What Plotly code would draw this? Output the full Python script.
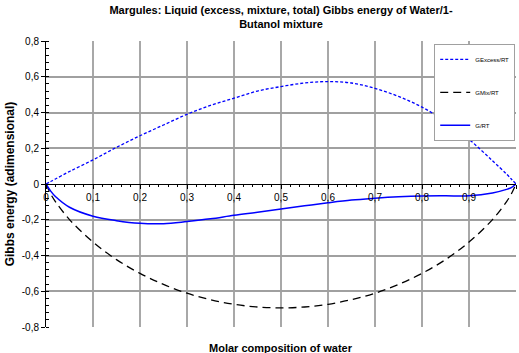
import plotly.graph_objects as go

x_water = [0, 0.01, 0.02, 0.05, 0.1, 0.15, 0.2, 0.25, 0.3, 0.35, 0.4, 0.45, 0.5,
           0.55, 0.6, 0.65, 0.7, 0.75, 0.8, 0.85, 0.9, 0.95, 0.98, 0.99, 1]
g_excess = [0, 0.014, 0.028, 0.07, 0.135, 0.205, 0.27, 0.33, 0.39, 0.44, 0.48, 0.52, 0.545,
            0.565, 0.573, 0.565, 0.535, 0.49, 0.43, 0.35, 0.25, 0.13, 0.055, 0.028, 0]
g_mix = [0, -0.056, -0.098, -0.199, -0.325, -0.423, -0.500, -0.562, -0.611, -0.647, -0.673, -0.688, -0.693,
         -0.688, -0.673, -0.647, -0.611, -0.562, -0.500, -0.423, -0.325, -0.199, -0.098, -0.056, 0]
g_total = [0, -0.04, -0.07, -0.13, -0.18, -0.205, -0.22, -0.222, -0.21, -0.195, -0.175, -0.158, -0.14,
           -0.122, -0.105, -0.09, -0.08, -0.072, -0.067, -0.066, -0.066, -0.05, -0.03, -0.02, 0]

x_ticks = [0, 0.1, 0.2, 0.3, 0.4, 0.5, 0.6, 0.7, 0.8, 0.9, 1]
y_ticks = [-0.8, -0.6, -0.4, -0.2, 0, 0.2, 0.4, 0.6, 0.8]

FONT = "Liberation Sans, Arial, sans-serif"

fig = go.Figure()
fig.add_trace(go.Scatter(x=x_water, y=g_excess, mode="lines", name="GExcess/RT",
                         line=dict(color="#0000ff", width=1.3, dash="3px,2px", shape="spline"),
                         legendgroup="a"))
fig.add_trace(go.Scatter(x=x_water, y=g_mix, mode="lines", name="GMix/RT",
                         line=dict(color="#000000", width=1.3, dash="8px,5px", shape="spline"),
                         legendgroup="b"))
fig.add_trace(go.Scatter(x=x_water, y=g_total, mode="lines", name="G/RT",
                         line=dict(color="#0000ff", width=1.5, shape="spline"),
                         legendgroup="c"))

fig.update_layout(
    width=519, height=353,
    margin=dict(l=46, r=3, t=41, b=26),
    paper_bgcolor="white", plot_bgcolor="white",
    separators=", ",
    font=dict(family=FONT, size=10, color="black"),
    title=dict(text="<b>Margules: Liquid (excess, mixture, total) Gibbs energy of Water/1-<br>Butanol mixture</b>",
               x=0.5, xref="paper", xanchor="center", y=0.96, yref="container", yanchor="top",
               font=dict(family=FONT, size=11, color="black")),
    showlegend=True,
    legend=dict(x=0.826, y=0.99, xanchor="left", yanchor="top",
                bgcolor="white", bordercolor="#a0a0a0", borderwidth=1,
                font=dict(family=FONT, size=6, color="black"),
                tracegroupgap=14, itemwidth=30),
    xaxis=dict(range=[0, 1], tickvals=x_ticks, ticktext=[f"{v:g}".replace(".", ",") for v in x_ticks],
               showgrid=True, gridcolor="#a8a8a8", gridwidth=2,
               zeroline=False, showline=True, linecolor="black", linewidth=1,
               anchor="free", position=0.5,
               ticks="outside", ticklen=4, tickcolor="black",
               minor=dict(dtick=0.02, ticks="outside", ticklen=2, tickcolor="black", showgrid=False),
               tickfont=dict(family=FONT, size=10)),
    yaxis=dict(range=[-0.8, 0.8], tickvals=y_ticks,
               ticktext=[f"{v:g}".replace(".", ",") for v in y_ticks],
               showgrid=True, gridcolor="#a0a0a0", gridwidth=1.5,
               zeroline=True, zerolinecolor="black", zerolinewidth=1,
               showline=True, linecolor="black", linewidth=1,
               ticks="outside", ticklen=4, tickcolor="black",
               minor=dict(dtick=0.04, ticks="inside", ticklen=3, tickcolor="black", showgrid=False),
               tickfont=dict(family=FONT, size=10),
               title=dict(text="<b>Gibbs energy (adimensional)</b>", standoff=4,
                          font=dict(family=FONT, size=12))),
)

# x-axis title placed at the bottom of the chart (the axis itself crosses at y=0)
fig.add_annotation(text="<b>Molar composition of water</b>", xref="paper", yref="paper",
                   x=0.5, y=-0.045, xanchor="center", yanchor="top", showarrow=False,
                   font=dict(family=FONT, size=11, color="black"))

fig.write_html("out.html")
